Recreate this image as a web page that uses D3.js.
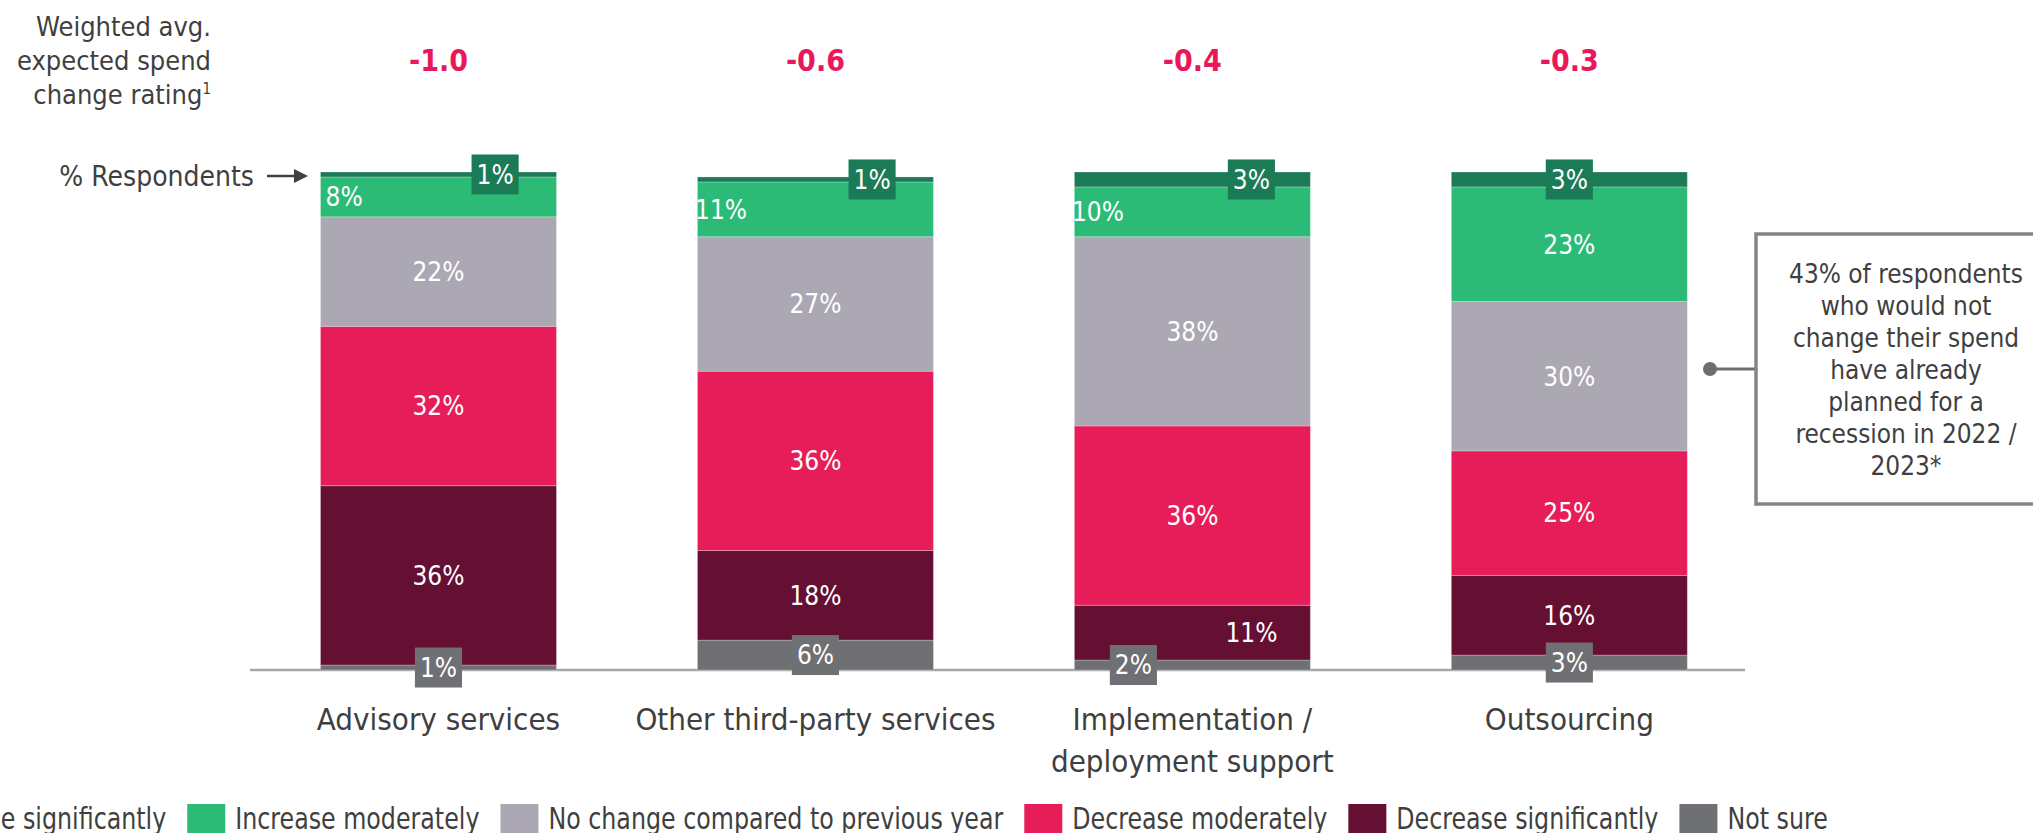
<!DOCTYPE html>
<html>
<head>
<meta charset="utf-8">
<script src="https://cdn.jsdelivr.net/npm/d3@7"></script>
<style>
  body { margin: 0; background: #fff; }
  svg { display: block; }
  text { font-family: "DejaVu Sans Condensed", "DejaVu Sans", sans-serif; font-stretch: condensed; }
</style>
</head>
<body>
<svg id="chart" width="2033" height="833"></svg>
<script>
// data
const categories = ["Advisory services", "Other third-party services", "Implementation / deployment support", "Outsourcing"];
const categoryLines = [["Advisory services"], ["Other third-party services"], ["Implementation /", "deployment support"], ["Outsourcing"]];
const ratings = [-1.0, -0.6, -0.4, -0.3];

const seriesNames = ["Increase significantly", "Increase moderately", "No change compared to previous year",
                     "Decrease moderately", "Decrease significantly", "Not sure"];
const increaseSig = [1, 1, 3, 3];
const increaseMod = [8, 11, 10, 23];
const noChange    = [22, 27, 38, 30];
const decreaseMod = [32, 36, 36, 25];
const decreaseSig = [36, 18, 11, 16];
const notSure     = [1, 6, 2, 3];

const noteLines = ["43% of respondents", "who would not", "change their spend", "have already",
                   "planned for a", "recession in 2022 /", "2023*"];

// styles
const colors = {
  "Increase significantly": "#1b7b57",
  "Increase moderately": "#2bbb76",
  "No change compared to previous year": "#aba8b3",
  "Decrease moderately": "#e71d59",
  "Decrease significantly": "#650f32",
  "Not sure": "#6f7073"
};
const boxed = ["Increase significantly", "Not sure"];
// where the value label sits across each bar (0 = left edge, 1 = right edge)
const labelPos = {
  "Increase significantly": [0.74, 0.74, 0.75, 0.5],
  "Increase moderately": [0.1, 0.1, 0.1, 0.5],
  "Decrease significantly": [0.5, 0.5, 0.75, 0.5],
  "Not sure": [0.5, 0.5, 0.25, 0.5]
};
const textColor = "#3f3f3f";

const svg = d3.select("#chart");

const x = d3.scaleBand().domain(categories).range([250, 1745])
  .paddingInner(0.374).paddingOuter(0.17).align(0.55);
const y = d3.scaleLinear().domain([0, 100]).range([670, 172]);

const values = [increaseSig, increaseMod, noChange, decreaseMod, decreaseSig, notSure];
const rows = categories.map((c, i) => {
  const r = { category: c };
  seriesNames.forEach((s, k) => r[s] = values[k][i]);
  return r;
});
const stacked = d3.stack().keys(seriesNames.slice().reverse())(rows);

// baseline
svg.append("line")
  .attr("x1", x.range()[0]).attr("x2", x.range()[1])
  .attr("y1", y(0)).attr("y2", y(0))
  .attr("stroke", "#a6a6a6").attr("stroke-width", 2.5);

// bars
const layers = svg.append("g").selectAll("g").data(stacked).join("g")
  .attr("fill", d => colors[d.key]);
layers.selectAll("rect").data(d => d).join("rect")
  .attr("x", d => x(d.data.category))
  .attr("y", d => y(d[1]))
  .attr("width", x.bandwidth())
  .attr("height", d => y(d[0]) - y(d[1]))
  .attr("stroke", "rgba(255,255,255,0.25)")
  .attr("stroke-width", 1);

// value labels
const labels = svg.append("g");
stacked.forEach(layer => {
  layer.forEach((d, i) => {
    const pos = labelPos[layer.key] ? labelPos[layer.key][i] : 0.5;
    const cx = x(d.data.category) + x.bandwidth() * pos;
    const cy = (y(d[0]) + y(d[1])) / 2;
    const g = labels.append("g");
    const t = g.append("text")
      .attr("x", cx).attr("y", cy).attr("dy", "0.36em")
      .attr("text-anchor", "middle")
      .attr("fill", "#fff").attr("font-size", 26)
      .text(d.data[layer.key] + "%");
    if (boxed.includes(layer.key)) {
      const w = t.node().getComputedTextLength() + 10;
      g.insert("rect", "text")
        .attr("x", cx - w / 2).attr("y", cy - 20)
        .attr("width", w).attr("height", 40)
        .attr("fill", colors[layer.key]);
    }
  });
});

// ratings
svg.append("g").selectAll("text").data(categories).join("text")
  .attr("x", c => x(c) + x.bandwidth() / 2)
  .attr("y", 71)
  .attr("text-anchor", "middle")
  .attr("font-size", 30).attr("font-weight", "bold")
  .attr("fill", "#e8185a")
  .text((c, i) => ratings[i].toFixed(1));

// category labels
svg.append("g").selectAll("text").data(categories).join("text")
  .attr("x", c => x(c) + x.bandwidth() / 2)
  .attr("y", 730)
  .attr("text-anchor", "middle")
  .attr("font-size", 31).attr("fill", textColor)
  .each(function(c, i) {
    const sel = d3.select(this);
    categoryLines[i].forEach((line, k) => {
      sel.append("tspan").attr("x", x(c) + x.bandwidth() / 2)
        .attr("dy", k === 0 ? 0 : 42).text(line);
    });
  });

// left title
const title = svg.append("text")
  .attr("text-anchor", "end").attr("font-size", 27).attr("fill", textColor);
title.append("tspan").attr("x", 211).attr("y", 36).text("Weighted avg.");
title.append("tspan").attr("x", 211).attr("y", 70).text("expected spend");
const t3 = title.append("tspan").attr("x", 211).attr("y", 104).text("change rating");
t3.append("tspan").attr("font-size", 15).attr("dy", -10).text("1");

// % Respondents with arrow
svg.append("text")
  .attr("x", 254).attr("y", 186)
  .attr("text-anchor", "end").attr("font-size", 28).attr("fill", textColor)
  .text("% Respondents");
svg.append("line")
  .attr("x1", 267).attr("x2", 296).attr("y1", 176).attr("y2", 176)
  .attr("stroke", "#404040").attr("stroke-width", 2.5);
svg.append("path")
  .attr("d", "M294,169 L308,176 L294,183 Z")
  .attr("fill", "#404040");

// callout
const calloutY = 369;
svg.append("line")
  .attr("x1", 1710).attr("x2", 1756).attr("y1", calloutY).attr("y2", calloutY)
  .attr("stroke", "#6d6e71").attr("stroke-width", 3);
svg.append("circle")
  .attr("cx", 1710).attr("cy", calloutY).attr("r", 7)
  .attr("fill", "#6d6e71");
svg.append("rect")
  .attr("x", 1756).attr("y", 234).attr("width", 300).attr("height", 270)
  .attr("fill", "#fff").attr("stroke", "#858585").attr("stroke-width", 3.5);
const note = svg.append("g").selectAll("text").data(noteLines).join("text")
  .attr("x", 1906)
  .attr("y", (d, i) => 283 + i * 32)
  .attr("text-anchor", "middle")
  .attr("font-size", 26).attr("fill", textColor)
  .text(d => d);
// fit the widest line to the box's text width
const widest = d3.max(note.nodes(), n => n.getComputedTextLength());
note.attr("font-size", 26 * 234 / widest);

// legend
const legend = svg.append("g");
const squeeze = 0.88;
let lx = -133;
seriesNames.forEach(s => {
  legend.append("rect")
    .attr("x", lx).attr("y", 804).attr("width", 38).attr("height", 38)
    .attr("fill", colors[s]);
  const t = legend.append("text")
    .attr("transform", `translate(${lx + 48},829) scale(${squeeze},1)`)
    .attr("font-size", 30).attr("fill", textColor)
    .text(s);
  lx += 48 + t.node().getComputedTextLength() * squeeze + 21;
});
</script>
</body>
</html>
